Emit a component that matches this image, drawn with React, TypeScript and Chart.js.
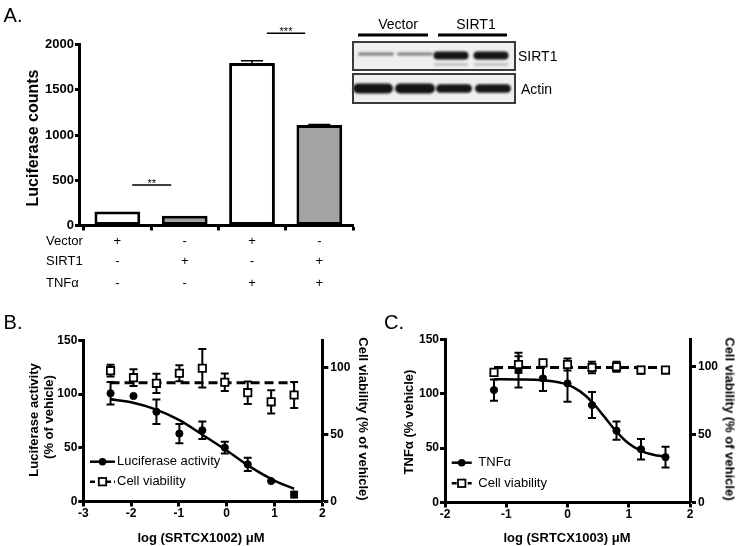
import React, { useEffect, useRef } from 'react';
import { Chart, registerables } from 'chart.js';

Chart.register(...registerables);

const FONT = '"Liberation Sans", Arial, Helvetica, sans-serif';

// ---------- Panel A data ----------
const groupsA = [0, 1, 2, 3];
const countsA = [155, 108, 1795, 1110];
const countErrA = [0, 0, 25, 5];
const barColorsA = ['#ffffff', '#a3a3a3', '#ffffff', '#a3a3a3'];
const rowNamesA = ['Vector', 'SIRT1', 'TNFα'];
const vectorRowA = ['+', '-', '+', '-'];
const sirt1RowA = ['-', '+', '-', '+'];
const tnfRowA = ['-', '-', '+', '+'];
const yTicksA = [0, 500, 1000, 1500, 2000];
const sigFromA = [0.22, 2.22];
const sigToA = [0.8, 2.79];
const sigLevelA = [448, 2124];
const sigLabelA = ['**', '***'];

// ---------- Western blot ----------
const blotHeaders = ['Vector', 'SIRT1'];
const blotRows = ['SIRT1', 'Actin'];
const sirtBandStrength = [0.35, 0.35, 1, 1];
const actinBandStrength = [1, 1, 0.9, 0.9];

// ---------- Panel B data ----------
const xB = [-2.43, -1.95, -1.47, -0.99, -0.51, -0.04, 0.44, 0.93, 1.41];
const lucB = [100.8, 98.3, 83.6, 63.3, 66.4, 50.2, 34.6, 19.0, 6.5];
const lucErrB = [10.5, 0, 11.4, 9, 8.1, 5.5, 6.2, 0, 2.7];
const viaB = [97.5, 92.3, 88.1, 95.6, 99.3, 88.9, 81.1, 74.3, 79.4];
const viaErrB = [4.4, 6.2, 7.2, 5.9, 14.4, 6.5, 8.4, 8.7, 9.7];
const viaFitB = 88.6;
const lucFitXB = [-2.43, -2, -1.5, -1, -0.5, 0, 0.5, 1, 1.41];
const lucFitYB = [95.2, 92.5, 86, 76, 62, 47.5, 32, 19.5, 11.9];
const xTicksB = [-3, -2, -1, 0, 1, 2];
const legendB = ['Luciferase activity', 'Cell viability'];

// ---------- Panel C data ----------
const xC = [-1.2, -0.8, -0.4, 0, 0.4, 0.8, 1.2, 1.6];
const tnfC = [103.5, 121.8, 114.2, 109.6, 89.7, 66.1, 49.0, 41.7];
const tnfErrC = [9.8, 16, 11.5, 17, 12, 8.4, 9.5, 9.6];
const viaC = [95.8, 101.6, 102.8, 101.6, 99.4, 99.9, 97.5, 97.5];
const viaErrC = [0, 6, 0, 4.4, 4.3, 3.7, 2.5, 0];
const viaFitC = 99.4;
const tnfFitXC = [-1.2, -0.8, -0.4, 0, 0.2, 0.4, 0.6, 0.8, 1.0, 1.2, 1.4, 1.6];
const tnfFitYC = [113.5, 113.3, 112.5, 108.5, 102.5, 92.7, 79, 65.2, 54.2, 47.5, 44, 42.3];
const xTicksC = [-2, -1, 0, 1, 2];
const legendC = ['TNFα', 'Cell viability'];

const leftTicksDose = [0, 50, 100, 150];
const rightTicksDose = [0, 50, 100];

// ---------- shared plugins ----------
const errorBarPlugin = {
  id: 'errorBars',
  beforeDatasetsDraw(chart: any) {
    const ctx = chart.ctx;
    chart.data.datasets.forEach((ds: any, i: number) => {
      if (!ds.errors) return;
      const meta = chart.getDatasetMeta(i);
      const ys = chart.scales[meta.yAxisID];
      ctx.save();
      ctx.strokeStyle = '#000';
      ctx.lineWidth = ds.errorWidth || 2;
      meta.data.forEach((el: any, j: number) => {
        const e = ds.errors[j];
        if (!e) return;
        const raw = ds.data[j];
        const v = typeof raw === 'number' ? raw : raw.y;
        const x = el.x;
        const top = ys.getPixelForValue(v + e);
        const bot = ds.errorUpOnly ? ys.getPixelForValue(v) : ys.getPixelForValue(v - e);
        const cap = ds.errorCap || 4;
        ctx.beginPath();
        ctx.moveTo(x, top);
        ctx.lineTo(x, bot);
        ctx.moveTo(x - cap, top);
        ctx.lineTo(x + cap, top);
        if (!ds.errorUpOnly) {
          ctx.moveTo(x - cap, bot);
          ctx.lineTo(x + cap, bot);
        }
        ctx.stroke();
      });
      ctx.restore();
    });
  },
};

function axisBase(size: number, tickLength: number, padding: number) {
  return {
    grid: { drawOnChartArea: false, drawTicks: true, tickLength, tickWidth: 3, tickColor: '#000' },
    border: { display: true, width: 3, color: '#000' },
    ticks: {
      color: '#000',
      font: { family: FONT, size, weight: 'bold' },
      padding,
      callback: (v: any) => String(v),
    },
  };
}

function makeA(canvas: HTMLCanvasElement) {
  const rowsPlugin = {
    id: 'rowsA',
    afterDraw(chart: any) {
      const ctx = chart.ctx;
      const xs = chart.scales.x;
      const ys = chart.scales.y;
      const rows = [vectorRowA, sirt1RowA, tnfRowA];
      const rowY = [241, 261.5, 283];
      ctx.save();
      ctx.fillStyle = '#000';
      ctx.font = `13px ${FONT}`;
      ctx.textBaseline = 'middle';
      rows.forEach((row, r) => {
        ctx.textAlign = 'left';
        ctx.fillText(rowNamesA[r], 46, rowY[r]);
        ctx.textAlign = 'center';
        row.forEach((s, i) => ctx.fillText(s, xs.getPixelForValue(groupsA[i]), rowY[r]));
      });
      // significance bars
      ctx.strokeStyle = '#000';
      ctx.lineWidth = 1.5;
      ctx.font = `11px ${FONT}`;
      ctx.textBaseline = 'alphabetic';
      sigLabelA.forEach((lab, k) => {
        const x1 = xs.getPixelForValue(sigFromA[k]);
        const x2 = xs.getPixelForValue(sigToA[k]);
        const y = ys.getPixelForValue(sigLevelA[k]);
        ctx.beginPath();
        ctx.moveTo(x1, y);
        ctx.lineTo(x2, y);
        ctx.stroke();
        ctx.fillText(lab, (x1 + x2) / 2, y + 2);
      });
      ctx.restore();
    },
  };

  const ax = axisBase(13, 4, 1);
  return new Chart(canvas, {
    type: 'bar',
    data: {
      datasets: [
        {
          data: groupsA.map((g, i) => ({ x: g, y: countsA[i] })),
          backgroundColor: barColorsA,
          borderColor: '#000',
          borderWidth: 3,
          borderSkipped: false,
          barPercentage: 0.68,
          categoryPercentage: 1,
          errors: countErrA,
          errorUpOnly: true,
          errorCap: 11,
          errorWidth: 1.5,
        } as any,
      ],
    },
    options: {
      animation: false,
      responsive: false,
      events: [],
      layout: { padding: { left: 0, right: 7, top: 44.5, bottom: 0 } },
      plugins: { legend: { display: false }, tooltip: { enabled: false } },
      scales: {
        x: {
          type: 'linear',
          min: -0.57,
          max: 3.5,
          offset: false,
          ...ax,
          grid: { ...ax.grid, tickLength: 5 },
          ticks: { ...ax.ticks, callback: () => '' },
          afterBuildTicks: (s: any) => {
            s.ticks = groupsA.map((v) => ({ value: v }));
          },
          afterFit: (s: any) => {
            s.height = 300 - 225.5;
          },
        },
        y: {
          type: 'linear',
          min: 0,
          max: 2000,
          ...ax,
          afterBuildTicks: (s: any) => {
            s.ticks = yTicksA.map((v) => ({ value: v }));
          },
          afterFit: (s: any) => {
            s.width = 79;
          },
        },
      } as any,
    },
    plugins: [errorBarPlugin, rowsPlugin],
  } as any);
}

interface DoseCfg {
  x: number[];
  main: number[];
  mainErr: number[];
  via: number[];
  viaErr: number[];
  viaFit: number;
  fitX: number[];
  fitY: number[];
  xTicks: number[];
  legend: string[];
  top: number;
  leftW: number;
  rightW: number;
  xH: number;
  legX0: number;
  legX1: number;
  legTextX: number;
  legY: number[];
}

function makeDose(canvas: HTMLCanvasElement, cfg: DoseCfg) {
  const legendPlugin = {
    id: 'doseLegend',
    afterDraw(chart: any) {
      const ctx = chart.ctx;
      ctx.save();
      ctx.strokeStyle = '#000';
      ctx.fillStyle = '#000';
      const cx = (cfg.legX0 + cfg.legX1) / 2;
      cfg.legend.forEach((lab, k) => {
        const y = cfg.legY[k];
        ctx.lineWidth = 2.5;
        ctx.setLineDash(k === 1 ? [5, 3] : []);
        ctx.beginPath();
        ctx.moveTo(cfg.legX0, y);
        ctx.lineTo(cfg.legX1, y);
        ctx.stroke();
        ctx.setLineDash([]);
        if (k === 0) {
          ctx.beginPath();
          ctx.arc(cx, y, 3.8, 0, Math.PI * 2);
          ctx.fill();
        } else {
          ctx.fillStyle = '#fff';
          ctx.lineWidth = 1.8;
          ctx.fillRect(cx - 3.7, y - 3.7, 7.4, 7.4);
          ctx.strokeRect(cx - 3.7, y - 3.7, 7.4, 7.4);
          ctx.fillStyle = '#000';
        }
        ctx.font = `13px ${FONT}`;
        ctx.textAlign = 'left';
        ctx.textBaseline = 'middle';
        ctx.fillText(lab, cfg.legTextX, y);
      });
      ctx.restore();
    },
  };

  const axL = axisBase(12, 5, 1);
  const axR = axisBase(12, 6, 2);
  const axX = axisBase(12, 5, 0);
  const n = cfg.x.length;
  return new Chart(canvas, {
    type: 'scatter',
    data: {
      datasets: [
        {
          label: cfg.legend[1],
          data: cfg.x.map((x, i) => ({ x, y: cfg.via[i] })),
          errors: cfg.viaErr,
          yAxisID: 'y2',
          pointStyle: 'rect',
          pointRadius: 5.2,
          pointBorderWidth: 1.8,
          borderWidth: 1.8,
          backgroundColor: '#fff',
          borderColor: '#000',
          showLine: false,
          order: 0,
        },
        {
          label: cfg.legend[0],
          data: cfg.x.map((x, i) => ({ x, y: cfg.main[i] })),
          errors: cfg.mainErr,
          yAxisID: 'y',
          pointStyle: 'circle',
          pointRadius: 3.6,
          pointBorderWidth: 1,
          borderWidth: 1,
          backgroundColor: '#000',
          borderColor: '#000',
          showLine: false,
          order: 1,
        },
        {
          data: [
            { x: cfg.x[0], y: cfg.viaFit },
            { x: cfg.x[n - 1], y: cfg.viaFit },
          ],
          yAxisID: 'y2',
          showLine: true,
          pointRadius: 0,
          borderColor: '#000',
          borderWidth: 3,
          borderDash: [9, 5],
          order: 2,
        },
        {
          data: cfg.fitX.map((x, i) => ({ x, y: cfg.fitY[i] })),
          yAxisID: 'y',
          showLine: true,
          pointRadius: 0,
          borderColor: '#000',
          borderWidth: 2.5,
          cubicInterpolationMode: 'monotone',
          order: 3,
        },
      ] as any,
    },
    options: {
      animation: false,
      responsive: false,
      events: [],
      layout: { padding: { left: 0, right: 0, top: cfg.top, bottom: 0 } },
      plugins: { legend: { display: false }, tooltip: { enabled: false } },
      scales: {
        x: {
          type: 'linear',
          position: 'bottom',
          min: cfg.xTicks[0],
          max: cfg.xTicks[cfg.xTicks.length - 1],
          ...axX,
          afterBuildTicks: (s: any) => {
            s.ticks = cfg.xTicks.map((v) => ({ value: v }));
          },
          afterFit: (s: any) => {
            s.height = cfg.xH;
          },
        },
        y: {
          type: 'linear',
          position: 'left',
          min: 0,
          max: 150,
          ...axL,
          afterBuildTicks: (s: any) => {
            s.ticks = leftTicksDose.map((v) => ({ value: v }));
          },
          afterFit: (s: any) => {
            s.width = cfg.leftW;
          },
        },
        y2: {
          type: 'linear',
          position: 'right',
          min: 0,
          max: 120,
          ...axR,
          afterBuildTicks: (s: any) => {
            s.ticks = rightTicksDose.map((v) => ({ value: v }));
          },
          afterFit: (s: any) => {
            s.width = cfg.rightW;
          },
        },
      } as any,
    },
    plugins: [errorBarPlugin, legendPlugin],
  } as any);
}

function drawBlot(cv: HTMLCanvasElement) {
  const ctx = cv.getContext('2d');
  if (!ctx) return;
  const ox = 340;
  ctx.clearRect(0, 0, cv.width, cv.height);
  // header underlines
  ctx.fillStyle = '#000';
  ctx.fillRect(358 - ox, 33.5, 70, 3);
  ctx.fillRect(438 - ox, 33.5, 69, 3);
  // membranes
  const boxes = [
    [42, 28],
    [74, 29],
  ];
  boxes.forEach(([y, h]) => {
    ctx.fillStyle = '#efefef';
    ctx.fillRect(353 - ox, y, 162, h);
  });
  const lanesSirt = [376, 415, 451, 491];
  const lanesActin = [373, 415, 454, 493];
  const band = (cx: number, cy: number, w: number, h: number, color: string) => {
    ctx.fillStyle = color;
    ctx.beginPath();
    (ctx as any).roundRect(cx - w / 2 - ox, cy - h / 2, w, h, h / 2);
    ctx.fill();
  };
  ctx.save();
  ctx.filter = 'blur(0.8px)';
  sirtBandStrength.forEach((s, i) => {
    if (s < 0.5) {
      band(lanesSirt[i], 54, 36, 3, '#7e7e7e');
    } else {
      band(lanesSirt[i], 55.5, 35, 8, '#141414');
      band(lanesSirt[i], 64.5, 34, 2, '#b0b0b0');
    }
  });
  actinBandStrength.forEach((s, i) => {
    band(lanesActin[i], 88.5, i < 2 ? 40 : 36, s > 0.95 ? 10 : 8.5, '#141414');
  });
  ctx.restore();
  boxes.forEach(([y, h]) => {
    ctx.strokeStyle = '#3a3a3a';
    ctx.lineWidth = 2;
    ctx.strokeRect(353 - ox, y, 162, h);
  });
}

interface TxtProps {
  x: number;
  y: number;
  size: number;
  bold?: boolean;
  rot?: number;
  left?: boolean;
  children: React.ReactNode;
}

function Txt({ x, y, size, bold, rot, left, children }: TxtProps) {
  const tr = `translate(${left ? '0' : '-50%'},-50%)` + (rot ? ` rotate(${rot}deg)` : '');
  return (
    <div
      style={{
        position: 'absolute',
        left: x,
        top: y,
        transform: tr,
        fontSize: size,
        fontWeight: bold ? 'bold' : 'normal',
        lineHeight: 1,
        whiteSpace: 'nowrap',
        fontFamily: FONT,
        color: '#000',
      }}
    >
      {children}
    </div>
  );
}

export default function App() {
  const aRef = useRef<HTMLCanvasElement>(null);
  const bRef = useRef<HTMLCanvasElement>(null);
  const cRef = useRef<HTMLCanvasElement>(null);
  const blotRef = useRef<HTMLCanvasElement>(null);

  useEffect(() => {
    const charts: Chart[] = [];
    if (aRef.current) charts.push(makeA(aRef.current));
    if (bRef.current)
      charts.push(
        makeDose(bRef.current, {
          x: xB,
          main: lucB,
          mainErr: lucErrB,
          via: viaB,
          viaErr: viaErrB,
          viaFit: viaFitB,
          fitX: lucFitXB,
          fitY: lucFitYB,
          xTicks: xTicksB,
          legend: legendB,
          top: 40.5,
          leftW: 83.3,
          rightW: 370 - 322.3,
          xH: 246 - 201.5,
          legX0: 90,
          legX1: 115,
          legTextX: 117,
          legY: [161.7, 181.7],
        })
      );
    if (cRef.current)
      charts.push(
        makeDose(cRef.current, {
          x: xC,
          main: tnfC,
          mainErr: tnfErrC,
          via: viaC,
          viaErr: viaErrC,
          viaFit: viaFitC,
          fitX: tnfFitXC,
          fitY: tnfFitYC,
          xTicks: xTicksC,
          legend: legendC,
          top: 39.5,
          leftW: 75,
          rightW: 48,
          xH: 246 - 202.5,
          legX0: 81.7,
          legX1: 101.7,
          legTextX: 108.3,
          legY: [162.7, 183.3],
        })
      );
    if (blotRef.current) drawBlot(blotRef.current);
    return () => charts.forEach((c) => c.destroy());
  }, []);

  return (
    <div
      style={{
        position: 'fixed',
        left: 0,
        top: 0,
        width: 738,
        height: 546,
        background: '#fff',
        overflow: 'hidden',
        fontFamily: FONT,
      }}
    >
      <canvas ref={aRef} width={360} height={300} style={{ position: 'absolute', left: 0, top: 0 }} />
      <canvas ref={blotRef} width={230} height={115} style={{ position: 'absolute', left: 340, top: 0 }} />
      <canvas ref={bRef} width={370} height={246} style={{ position: 'absolute', left: 0, top: 300 }} />
      <canvas ref={cRef} width={368} height={246} style={{ position: 'absolute', left: 370, top: 300 }} />

      <Txt x={13} y={15} size={20}>A.</Txt>
      <Txt x={13} y={322} size={20}>B.</Txt>
      <Txt x={394} y={322} size={20}>C.</Txt>

      <Txt x={33} y={138} size={16} bold rot={-90}>Luciferase counts</Txt>

      <Txt x={398} y={24} size={14}>{blotHeaders[0]}</Txt>
      <Txt x={476} y={24} size={14}>{blotHeaders[1]}</Txt>
      <Txt x={518} y={56} size={14} left>{blotRows[0]}</Txt>
      <Txt x={521} y={89} size={14} left>{blotRows[1]}</Txt>

      <Txt x={33} y={420} size={13} bold rot={-90}>Luciferase activity</Txt>
      <Txt x={48} y={417} size={13} bold rot={-90}>(% of vehicle)</Txt>
      <Txt x={362.5} y={419} size={13} bold rot={90}>Cell viability (% of vehicle)</Txt>
      <Txt x={201} y={537} size={13} bold>log (SRTCX1002) μM</Txt>

      <Txt x={408} y={422} size={13} bold rot={-90}>TNFα (% vehicle)</Txt>
      <Txt x={730} y={419} size={13} bold rot={90}>Cell viability (% of vehicle)</Txt>
      <Txt x={567} y={537} size={13} bold>log (SRTCX1003) μM</Txt>
    </div>
  );
}
